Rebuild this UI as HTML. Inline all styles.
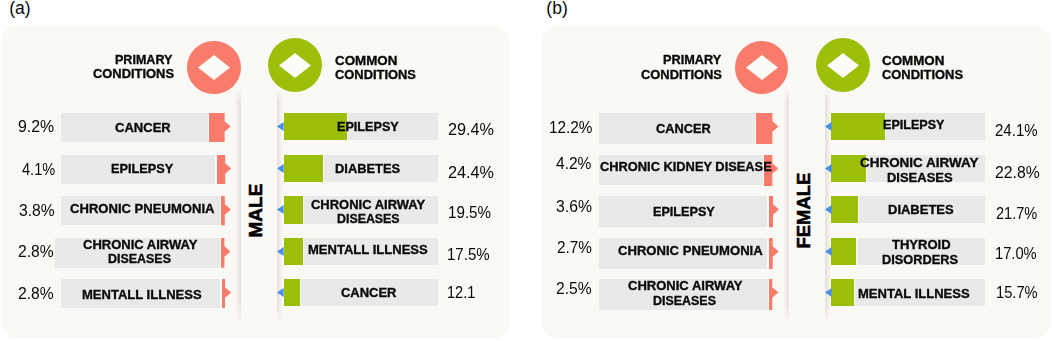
<!DOCTYPE html>
<html><head><meta charset="utf-8"><style>
html,body{margin:0;padding:0;background:#fff;}
body{width:1052px;height:341px;position:relative;overflow:hidden;font-family:"Liberation Sans", sans-serif;}
body>div{position:absolute;white-space:nowrap;}
</style></head><body>
<div style="left:1.00px;top:24.50px;width:509.00px;height:314.50px;background:#fbf9f5;border-radius:17px"></div>
<div style="left:541.00px;top:24.50px;width:509.50px;height:314.50px;background:#fbf9f5;border-radius:17px"></div>
<div style="left:235.00px;top:88.00px;width:6.00px;height:238.00px;background:linear-gradient(to right,rgba(0,0,0,0),rgba(110,100,90,0.16));-webkit-mask-image:linear-gradient(to bottom,transparent 0,#000 14px,#000 calc(100% - 24px),transparent 100%);"></div>
<div style="left:276.50px;top:88.00px;width:6.00px;height:238.00px;background:linear-gradient(to left,rgba(0,0,0,0),rgba(110,100,90,0.16));-webkit-mask-image:linear-gradient(to bottom,transparent 0,#000 14px,#000 calc(100% - 24px),transparent 100%);"></div>
<div style="left:782.60px;top:88.00px;width:6.00px;height:238.00px;background:linear-gradient(to right,rgba(0,0,0,0),rgba(110,100,90,0.16));-webkit-mask-image:linear-gradient(to bottom,transparent 0,#000 14px,#000 calc(100% - 24px),transparent 100%);"></div>
<div style="left:824.80px;top:88.00px;width:6.00px;height:238.00px;background:linear-gradient(to left,rgba(0,0,0,0),rgba(110,100,90,0.16));-webkit-mask-image:linear-gradient(to bottom,transparent 0,#000 14px,#000 calc(100% - 24px),transparent 100%);"></div>
<div style="left:187.00px;top:40.50px;width:53.6px;height:53.6px;border-radius:50%;background:#f97b6c"></div>
<svg style="position:absolute;left:197.80px;top:54.80px" width="32" height="25"><polygon points="16.0,0 32,12.5 16.0,25 0,12.5" fill="#fdfcf6"/></svg>
<div style="left:268.00px;top:38.10px;width:54.4px;height:54.4px;border-radius:50%;background:#9cbf0a"></div>
<svg style="position:absolute;left:279.20px;top:52.80px" width="32" height="25"><polygon points="16.0,0 32,12.5 16.0,25 0,12.5" fill="#fdfcf6"/></svg>
<div style="left:734.70px;top:40.60px;width:53.6px;height:53.6px;border-radius:50%;background:#f97b6c"></div>
<svg style="position:absolute;left:745.50px;top:54.90px" width="32" height="25"><polygon points="16.0,0 32,12.5 16.0,25 0,12.5" fill="#fdfcf6"/></svg>
<div style="left:815.70px;top:38.10px;width:54.4px;height:54.4px;border-radius:50%;background:#9cbf0a"></div>
<svg style="position:absolute;left:826.90px;top:52.80px" width="32" height="25"><polygon points="16.0,0 32,12.5 16.0,25 0,12.5" fill="#fdfcf6"/></svg>
<div style="left:61.00px;top:113.00px;width:146.70px;height:29.00px;background:#e9e9e9;"></div>
<svg style="position:absolute;left:207.20px;top:111.00px" width="25.60" height="33.00"><polygon points="2.00,2.00 17.60,2.00 17.60,10.35 23.60,15.60 17.60,20.85 17.60,31.00 2.00,31.00" fill="#f97b6c"/></svg>
<div style="left:61.00px;top:154.60px;width:154.10px;height:29.10px;background:#e9e9e9;"></div>
<svg style="position:absolute;left:214.60px;top:152.60px" width="18.20" height="33.10"><polygon points="2.00,2.00 10.20,2.00 10.20,10.35 16.20,15.60 10.20,20.85 10.20,31.10 2.00,31.10" fill="#f97b6c"/></svg>
<div style="left:61.00px;top:196.20px;width:158.50px;height:29.20px;background:#e9e9e9;"></div>
<svg style="position:absolute;left:219.00px;top:194.20px" width="13.80" height="33.20"><polygon points="2.00,2.00 5.80,2.00 5.80,10.35 11.80,15.60 5.80,20.85 5.80,31.20 2.00,31.20" fill="#f97b6c"/></svg>
<div style="left:55.40px;top:238.10px;width:164.50px;height:29.70px;background:#e9e9e9;"></div>
<svg style="position:absolute;left:219.40px;top:236.10px" width="13.40" height="33.70"><polygon points="2.00,2.00 5.40,2.00 5.40,10.35 11.40,15.60 5.40,20.85 5.40,31.70 2.00,31.70" fill="#f97b6c"/></svg>
<div style="left:61.00px;top:279.40px;width:159.30px;height:29.00px;background:#e9e9e9;"></div>
<svg style="position:absolute;left:219.80px;top:277.40px" width="13.00" height="33.00"><polygon points="2.00,2.00 5.00,2.00 5.00,10.35 11.00,15.60 5.00,20.85 5.00,31.00 2.00,31.00" fill="#f97b6c"/></svg>
<div style="left:599.20px;top:113.00px;width:155.40px;height:31.00px;background:#e9e9e9;"></div>
<svg style="position:absolute;left:754.10px;top:111.00px" width="26.40" height="35.00"><polygon points="2.00,2.00 18.40,2.00 18.40,10.35 24.40,15.60 18.40,20.85 18.40,33.00 2.00,33.00" fill="#f97b6c"/></svg>
<div style="left:599.20px;top:154.50px;width:163.50px;height:30.90px;background:#e9e9e9;"></div>
<svg style="position:absolute;left:762.20px;top:152.50px" width="18.30" height="34.90"><polygon points="2.00,2.00 10.30,2.00 10.30,10.35 16.30,15.60 10.30,20.85 10.30,32.90 2.00,32.90" fill="#f97b6c"/></svg>
<div style="left:598.80px;top:196.20px;width:168.20px;height:31.20px;background:#e9e9e9;"></div>
<svg style="position:absolute;left:766.50px;top:194.20px" width="14.00" height="35.20"><polygon points="2.00,2.00 6.00,2.00 6.00,10.35 12.00,15.60 6.00,20.85 6.00,33.20 2.00,33.20" fill="#f97b6c"/></svg>
<div style="left:599.10px;top:237.90px;width:168.20px;height:30.90px;background:#e9e9e9;"></div>
<svg style="position:absolute;left:766.80px;top:235.90px" width="13.70" height="34.90"><polygon points="2.00,2.00 5.70,2.00 5.70,10.35 11.70,15.60 5.70,20.85 5.70,32.90 2.00,32.90" fill="#f97b6c"/></svg>
<div style="left:598.60px;top:279.20px;width:169.10px;height:31.10px;background:#e9e9e9;"></div>
<svg style="position:absolute;left:767.20px;top:277.20px" width="13.30" height="35.10"><polygon points="2.00,2.00 5.30,2.00 5.30,10.35 11.30,15.60 5.30,20.85 5.30,33.10 2.00,33.10" fill="#f97b6c"/></svg>
<div style="left:347.80px;top:113.00px;width:89.90px;height:27.30px;background:#e9e9e9;"></div>
<div style="left:283.60px;top:113.00px;width:63.20px;height:27.30px;background:#9cbf0a;"></div>
<svg style="position:absolute;left:275.40px;top:120.10px" width="11.2" height="13"><polygon points="8.70,2.00 2.00,6.50 8.70,11.00" fill="#4a90e2"/></svg>
<div style="left:323.80px;top:154.50px;width:113.90px;height:27.30px;background:#e9e9e9;"></div>
<div style="left:283.60px;top:154.50px;width:39.20px;height:27.30px;background:#9cbf0a;"></div>
<svg style="position:absolute;left:275.40px;top:161.60px" width="11.2" height="13"><polygon points="8.70,2.00 2.00,6.50 8.70,11.00" fill="#4a90e2"/></svg>
<div style="left:304.00px;top:196.00px;width:133.70px;height:27.60px;background:#e9e9e9;"></div>
<div style="left:283.60px;top:196.00px;width:19.40px;height:27.60px;background:#9cbf0a;"></div>
<svg style="position:absolute;left:275.40px;top:203.10px" width="11.2" height="13"><polygon points="8.70,2.00 2.00,6.50 8.70,11.00" fill="#4a90e2"/></svg>
<div style="left:303.90px;top:237.50px;width:133.80px;height:27.50px;background:#e9e9e9;"></div>
<div style="left:283.60px;top:237.50px;width:19.30px;height:27.50px;background:#9cbf0a;"></div>
<svg style="position:absolute;left:275.40px;top:244.60px" width="11.2" height="13"><polygon points="8.70,2.00 2.00,6.50 8.70,11.00" fill="#4a90e2"/></svg>
<div style="left:301.40px;top:279.00px;width:136.30px;height:27.40px;background:#e9e9e9;"></div>
<div style="left:283.60px;top:279.00px;width:16.80px;height:27.40px;background:#9cbf0a;"></div>
<svg style="position:absolute;left:275.40px;top:286.10px" width="11.2" height="13"><polygon points="8.70,2.00 2.00,6.50 8.70,11.00" fill="#4a90e2"/></svg>
<div style="left:886.30px;top:113.00px;width:98.90px;height:27.00px;background:#e9e9e9;"></div>
<div style="left:831.20px;top:113.00px;width:54.10px;height:27.00px;background:#9cbf0a;"></div>
<svg style="position:absolute;left:823.00px;top:120.10px" width="11.2" height="13"><polygon points="8.70,2.00 2.00,6.50 8.70,11.00" fill="#4a90e2"/></svg>
<div style="left:866.70px;top:154.50px;width:118.50px;height:27.20px;background:#e9e9e9;"></div>
<div style="left:831.20px;top:154.50px;width:34.50px;height:27.20px;background:#9cbf0a;"></div>
<svg style="position:absolute;left:823.00px;top:161.60px" width="11.2" height="13"><polygon points="8.70,2.00 2.00,6.50 8.70,11.00" fill="#4a90e2"/></svg>
<div style="left:858.80px;top:196.20px;width:126.40px;height:27.20px;background:#e9e9e9;"></div>
<div style="left:831.20px;top:196.20px;width:26.60px;height:27.20px;background:#9cbf0a;"></div>
<svg style="position:absolute;left:823.00px;top:203.30px" width="11.2" height="13"><polygon points="8.70,2.00 2.00,6.50 8.70,11.00" fill="#4a90e2"/></svg>
<div style="left:857.50px;top:237.80px;width:127.70px;height:27.10px;background:#e9e9e9;"></div>
<div style="left:831.20px;top:237.80px;width:25.30px;height:27.10px;background:#9cbf0a;"></div>
<svg style="position:absolute;left:823.00px;top:244.90px" width="11.2" height="13"><polygon points="8.70,2.00 2.00,6.50 8.70,11.00" fill="#4a90e2"/></svg>
<div style="left:855.30px;top:279.30px;width:129.90px;height:27.20px;background:#e9e9e9;"></div>
<div style="left:831.20px;top:279.30px;width:23.10px;height:27.20px;background:#9cbf0a;"></div>
<svg style="position:absolute;left:823.00px;top:286.40px" width="11.2" height="13"><polygon points="8.70,2.00 2.00,6.50 8.70,11.00" fill="#4a90e2"/></svg>
<div style="left:9.31px;top:0.19px;font-size:17.5px;line-height:17.5px;transform-origin:0 0;transform:scaleX(1.0000);color:#0a0a0a;-webkit-text-stroke:0px #0a0a0a">(a)</div>
<div style="left:546.35px;top:0.19px;font-size:17.5px;line-height:17.5px;transform-origin:0 0;transform:scaleX(1.0000);color:#0a0a0a;-webkit-text-stroke:0px #0a0a0a">(b)</div>
<div style="left:115.22px;top:54.15px;font-size:12.6px;line-height:12.6px;font-weight:700;transform-origin:0 0;transform:scaleX(0.9952);color:#0a0a0a;-webkit-text-stroke:0.35px #0a0a0a">PRIMARY</div>
<div style="left:92.68px;top:68.36px;font-size:12.6px;line-height:12.6px;font-weight:700;transform-origin:0 0;transform:scaleX(1.0253);color:#0a0a0a;-webkit-text-stroke:0.35px #0a0a0a">CONDITIONS</div>
<div style="left:334.92px;top:54.94px;font-size:12.6px;line-height:12.6px;font-weight:700;transform-origin:0 0;transform:scaleX(1.0617);color:#0a0a0a;-webkit-text-stroke:0.35px #0a0a0a">COMMON</div>
<div style="left:334.94px;top:69.11px;font-size:12.6px;line-height:12.6px;font-weight:700;transform-origin:0 0;transform:scaleX(1.0241);color:#0a0a0a;-webkit-text-stroke:0.35px #0a0a0a">CONDITIONS</div>
<div style="left:662.77px;top:53.52px;font-size:12.6px;line-height:12.6px;font-weight:700;transform-origin:0 0;transform:scaleX(1.0093);color:#0a0a0a;-webkit-text-stroke:0.35px #0a0a0a">PRIMARY</div>
<div style="left:641.28px;top:68.57px;font-size:12.6px;line-height:12.6px;font-weight:700;transform-origin:0 0;transform:scaleX(1.0241);color:#0a0a0a;-webkit-text-stroke:0.35px #0a0a0a">CONDITIONS</div>
<div style="left:882.04px;top:55.19px;font-size:12.6px;line-height:12.6px;font-weight:700;transform-origin:0 0;transform:scaleX(1.0617);color:#0a0a0a;-webkit-text-stroke:0.35px #0a0a0a">COMMON</div>
<div style="left:882.22px;top:68.69px;font-size:12.6px;line-height:12.6px;font-weight:700;transform-origin:0 0;transform:scaleX(1.0253);color:#0a0a0a;-webkit-text-stroke:0.35px #0a0a0a">CONDITIONS</div>
<div style="left:115.20px;top:120.72px;font-size:13px;line-height:13px;font-weight:700;transform-origin:0 0;transform:scaleX(1.0031);color:#0a0a0a;-webkit-text-stroke:0.35px #0a0a0a">CANCER</div>
<div style="left:111.11px;top:161.61px;font-size:13px;line-height:13px;font-weight:700;transform-origin:0 0;transform:scaleX(0.9776);color:#0a0a0a;-webkit-text-stroke:0.35px #0a0a0a">EPILEPSY</div>
<div style="left:70.48px;top:202.02px;font-size:13px;line-height:13px;font-weight:700;transform-origin:0 0;transform:scaleX(1.0053);color:#0a0a0a;-webkit-text-stroke:0.35px #0a0a0a">CHRONIC PNEUMONIA</div>
<div style="left:83.22px;top:238.02px;font-size:13px;line-height:13px;font-weight:700;transform-origin:0 0;transform:scaleX(1.0007);color:#0a0a0a;-webkit-text-stroke:0.35px #0a0a0a">CHRONIC AIRWAY</div>
<div style="left:107.99px;top:252.48px;font-size:13px;line-height:13px;font-weight:700;transform-origin:0 0;transform:scaleX(0.9573);color:#0a0a0a;-webkit-text-stroke:0.35px #0a0a0a">DISEASES</div>
<div style="left:82.41px;top:288.36px;font-size:13px;line-height:13px;font-weight:700;transform-origin:0 0;transform:scaleX(1.0016);color:#0a0a0a;-webkit-text-stroke:0.35px #0a0a0a">MENTALL ILLNESS</div>
<div style="left:336.82px;top:119.52px;font-size:13px;line-height:13px;font-weight:700;transform-origin:0 0;transform:scaleX(0.9712);color:#0a0a0a;-webkit-text-stroke:0.35px #0a0a0a">EPILEPSY</div>
<div style="left:335.28px;top:161.61px;font-size:13px;line-height:13px;font-weight:700;transform-origin:0 0;transform:scaleX(0.9915);color:#0a0a0a;-webkit-text-stroke:0.35px #0a0a0a">DIABETES</div>
<div style="left:311.20px;top:197.52px;font-size:13px;line-height:13px;font-weight:700;transform-origin:0 0;transform:scaleX(0.9981);color:#0a0a0a;-webkit-text-stroke:0.35px #0a0a0a">CHRONIC AIRWAY</div>
<div style="left:336.69px;top:212.40px;font-size:13px;line-height:13px;font-weight:700;transform-origin:0 0;transform:scaleX(0.9526);color:#0a0a0a;-webkit-text-stroke:0.35px #0a0a0a">DISEASES</div>
<div style="left:308.41px;top:243.47px;font-size:13px;line-height:13px;font-weight:700;transform-origin:0 0;transform:scaleX(1.0025);color:#0a0a0a;-webkit-text-stroke:0.35px #0a0a0a">MENTALL ILLNESS</div>
<div style="left:341.02px;top:285.51px;font-size:13px;line-height:13px;font-weight:700;transform-origin:0 0;transform:scaleX(0.9976);color:#0a0a0a;-webkit-text-stroke:0.35px #0a0a0a">CANCER</div>
<div style="left:656.37px;top:121.65px;font-size:13px;line-height:13px;font-weight:700;transform-origin:0 0;transform:scaleX(0.9867);color:#0a0a0a;-webkit-text-stroke:0.35px #0a0a0a">CANCER</div>
<div style="left:599.85px;top:159.97px;font-size:13px;line-height:13px;font-weight:700;transform-origin:0 0;transform:scaleX(0.9880);color:#0a0a0a;-webkit-text-stroke:0.35px #0a0a0a">CHRONIC KIDNEY DISEASE</div>
<div style="left:652.98px;top:204.60px;font-size:13px;line-height:13px;font-weight:700;transform-origin:0 0;transform:scaleX(0.9712);color:#0a0a0a;-webkit-text-stroke:0.35px #0a0a0a">EPILEPSY</div>
<div style="left:617.80px;top:243.60px;font-size:13px;line-height:13px;font-weight:700;transform-origin:0 0;transform:scaleX(1.0067);color:#0a0a0a;-webkit-text-stroke:0.35px #0a0a0a">CHRONIC PNEUMONIA</div>
<div style="left:627.58px;top:279.44px;font-size:13px;line-height:13px;font-weight:700;transform-origin:0 0;transform:scaleX(1.0016);color:#0a0a0a;-webkit-text-stroke:0.35px #0a0a0a">CHRONIC AIRWAY</div>
<div style="left:653.37px;top:293.65px;font-size:13px;line-height:13px;font-weight:700;transform-origin:0 0;transform:scaleX(0.9573);color:#0a0a0a;-webkit-text-stroke:0.35px #0a0a0a">DISEASES</div>
<div style="left:882.72px;top:118.48px;font-size:13px;line-height:13px;font-weight:700;transform-origin:0 0;transform:scaleX(0.9663);color:#0a0a0a;-webkit-text-stroke:0.35px #0a0a0a">EPILEPSY</div>
<div style="left:860.16px;top:155.72px;font-size:13px;line-height:13px;font-weight:700;transform-origin:0 0;transform:scaleX(1.0350);color:#0a0a0a;-webkit-text-stroke:0.35px #0a0a0a">CHRONIC AIRWAY</div>
<div style="left:886.57px;top:170.72px;font-size:13px;line-height:13px;font-weight:700;transform-origin:0 0;transform:scaleX(0.9977);color:#0a0a0a;-webkit-text-stroke:0.35px #0a0a0a">DISEASES</div>
<div style="left:887.69px;top:203.15px;font-size:13px;line-height:13px;font-weight:700;transform-origin:0 0;transform:scaleX(0.9992);color:#0a0a0a;-webkit-text-stroke:0.35px #0a0a0a">DIABETES</div>
<div style="left:891.83px;top:237.52px;font-size:13px;line-height:13px;font-weight:700;transform-origin:0 0;transform:scaleX(1.0026);color:#0a0a0a;-webkit-text-stroke:0.35px #0a0a0a">THYROID</div>
<div style="left:881.77px;top:252.65px;font-size:13px;line-height:13px;font-weight:700;transform-origin:0 0;transform:scaleX(0.9830);color:#0a0a0a;-webkit-text-stroke:0.35px #0a0a0a">DISORDERS</div>
<div style="left:858.25px;top:287.11px;font-size:13px;line-height:13px;font-weight:700;transform-origin:0 0;transform:scaleX(1.0011);color:#0a0a0a;-webkit-text-stroke:0.35px #0a0a0a">MENTAL ILLNESS</div>
<div style="left:18.23px;top:119.43px;font-size:16px;line-height:16px;transform-origin:0 0;transform:scaleX(0.9903);color:#0a0a0a;-webkit-text-stroke:0px #0a0a0a">9.2%</div>
<div style="left:21.55px;top:161.56px;font-size:16px;line-height:16px;transform-origin:0 0;transform:scaleX(0.9122);color:#0a0a0a;-webkit-text-stroke:0px #0a0a0a">4.1%</div>
<div style="left:19.21px;top:202.64px;font-size:16px;line-height:16px;transform-origin:0 0;transform:scaleX(0.9773);color:#0a0a0a;-webkit-text-stroke:0px #0a0a0a">3.8%</div>
<div style="left:18.44px;top:244.47px;font-size:16px;line-height:16px;transform-origin:0 0;transform:scaleX(0.9789);color:#0a0a0a;-webkit-text-stroke:0px #0a0a0a">2.8%</div>
<div style="left:18.44px;top:285.68px;font-size:16px;line-height:16px;transform-origin:0 0;transform:scaleX(0.9789);color:#0a0a0a;-webkit-text-stroke:0px #0a0a0a">2.8%</div>
<div style="left:447.89px;top:122.26px;font-size:16px;line-height:16px;transform-origin:0 0;transform:scaleX(1.0136);color:#0a0a0a;-webkit-text-stroke:0px #0a0a0a">29.4%</div>
<div style="left:447.89px;top:164.51px;font-size:16px;line-height:16px;transform-origin:0 0;transform:scaleX(1.0136);color:#0a0a0a;-webkit-text-stroke:0px #0a0a0a">24.4%</div>
<div style="left:447.81px;top:204.97px;font-size:16px;line-height:16px;transform-origin:0 0;transform:scaleX(0.9490);color:#0a0a0a;-webkit-text-stroke:0px #0a0a0a">19.5%</div>
<div style="left:447.10px;top:246.85px;font-size:16px;line-height:16px;transform-origin:0 0;transform:scaleX(0.9398);color:#0a0a0a;-webkit-text-stroke:0px #0a0a0a">17.5%</div>
<div style="left:447.14px;top:285.47px;font-size:16px;line-height:16px;transform-origin:0 0;transform:scaleX(0.9066);color:#0a0a0a;-webkit-text-stroke:0px #0a0a0a">12.1</div>
<div style="left:548.59px;top:119.97px;font-size:16px;line-height:16px;transform-origin:0 0;transform:scaleX(0.9582);color:#0a0a0a;-webkit-text-stroke:0px #0a0a0a">12.2%</div>
<div style="left:556.23px;top:156.43px;font-size:16px;line-height:16px;transform-origin:0 0;transform:scaleX(0.9713);color:#0a0a0a;-webkit-text-stroke:0px #0a0a0a">4.2%</div>
<div style="left:555.77px;top:198.60px;font-size:16px;line-height:16px;transform-origin:0 0;transform:scaleX(0.9858);color:#0a0a0a;-webkit-text-stroke:0px #0a0a0a">3.6%</div>
<div style="left:556.78px;top:240.35px;font-size:16px;line-height:16px;transform-origin:0 0;transform:scaleX(0.9561);color:#0a0a0a;-webkit-text-stroke:0px #0a0a0a">2.7%</div>
<div style="left:556.28px;top:281.47px;font-size:16px;line-height:16px;transform-origin:0 0;transform:scaleX(0.9789);color:#0a0a0a;-webkit-text-stroke:0px #0a0a0a">2.5%</div>
<div style="left:995.47px;top:123.14px;font-size:16px;line-height:16px;transform-origin:0 0;transform:scaleX(0.9386);color:#0a0a0a;-webkit-text-stroke:0px #0a0a0a">24.1%</div>
<div style="left:995.43px;top:164.60px;font-size:16px;line-height:16px;transform-origin:0 0;transform:scaleX(0.9841);color:#0a0a0a;-webkit-text-stroke:0px #0a0a0a">22.8%</div>
<div style="left:995.73px;top:205.51px;font-size:16px;line-height:16px;transform-origin:0 0;transform:scaleX(0.9091);color:#0a0a0a;-webkit-text-stroke:0px #0a0a0a">21.7%</div>
<div style="left:995.28px;top:246.47px;font-size:16px;line-height:16px;transform-origin:0 0;transform:scaleX(0.9191);color:#0a0a0a;-webkit-text-stroke:0px #0a0a0a">17.0%</div>
<div style="left:996.01px;top:285.27px;font-size:16px;line-height:16px;transform-origin:0 0;transform:scaleX(0.9168);color:#0a0a0a;-webkit-text-stroke:0px #0a0a0a">15.7%</div>
<div style="left:230.26px;top:201.12px;font-size:18.5px;line-height:18.5px;font-weight:700;transform-origin:26.45px 9.34px;transform:rotate(-90deg) scaleX(1.0254);color:#000;-webkit-text-stroke:0.5px #000">MALE</div>
<div style="left:765.58px;top:200.66px;font-size:18.5px;line-height:18.5px;font-weight:700;transform-origin:38.30px 9.34px;transform:rotate(-90deg) scaleX(0.9959);color:#000;-webkit-text-stroke:0.5px #000">FEMALE</div>
</body></html>
